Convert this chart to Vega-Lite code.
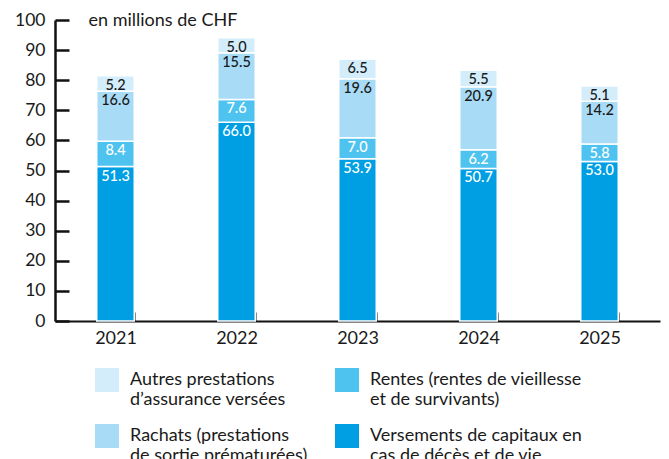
{
  "$schema": "https://vega.github.io/schema/vega-lite/v6.json",
  "width": 605,
  "height": 301,
  "autosize": "none",
  "padding": {"left": 55, "top": 20, "right": 9, "bottom": 138},
  "background": "white",
  "config": {
    "font": "Lato",
    "view": {"stroke": null},
    "axis": {"labelFont": "Lato", "labelColor": "#1a1a1a", "grid": false, "domainColor": "#111", "tickColor": "#111", "labelOverlap": false},
    "legend": {"labelFont": "Lato"}
  },
  "data": {
    "values": [
      {"year": "2021", "cat": "Versements de capitaux en cas de décès et de vie", "k": 1, "value": 51.3},
      {"year": "2021", "cat": "Rentes (rentes de vieillesse et de survivants)", "k": 2, "value": 8.4},
      {"year": "2021", "cat": "Rachats (prestations de sortie prématurées)", "k": 3, "value": 16.6},
      {"year": "2021", "cat": "Autres prestations d’assurance versées", "k": 4, "value": 5.2},
      {"year": "2022", "cat": "Versements de capitaux en cas de décès et de vie", "k": 1, "value": 66.0},
      {"year": "2022", "cat": "Rentes (rentes de vieillesse et de survivants)", "k": 2, "value": 7.6},
      {"year": "2022", "cat": "Rachats (prestations de sortie prématurées)", "k": 3, "value": 15.5},
      {"year": "2022", "cat": "Autres prestations d’assurance versées", "k": 4, "value": 5.0},
      {"year": "2023", "cat": "Versements de capitaux en cas de décès et de vie", "k": 1, "value": 53.9},
      {"year": "2023", "cat": "Rentes (rentes de vieillesse et de survivants)", "k": 2, "value": 7.0},
      {"year": "2023", "cat": "Rachats (prestations de sortie prématurées)", "k": 3, "value": 19.6},
      {"year": "2023", "cat": "Autres prestations d’assurance versées", "k": 4, "value": 6.5},
      {"year": "2024", "cat": "Versements de capitaux en cas de décès et de vie", "k": 1, "value": 50.7},
      {"year": "2024", "cat": "Rentes (rentes de vieillesse et de survivants)", "k": 2, "value": 6.2},
      {"year": "2024", "cat": "Rachats (prestations de sortie prématurées)", "k": 3, "value": 20.9},
      {"year": "2024", "cat": "Autres prestations d’assurance versées", "k": 4, "value": 5.5},
      {"year": "2025", "cat": "Versements de capitaux en cas de décès et de vie", "k": 1, "value": 53.0},
      {"year": "2025", "cat": "Rentes (rentes de vieillesse et de survivants)", "k": 2, "value": 5.8},
      {"year": "2025", "cat": "Rachats (prestations de sortie prématurées)", "k": 3, "value": 14.2},
      {"year": "2025", "cat": "Autres prestations d’assurance versées", "k": 4, "value": 5.1}
    ]
  },
  "transform": [
    {"stack": "value", "groupby": ["year"], "sort": [{"field": "k", "order": "ascending"}], "as": ["v0", "v1"]}
  ],
  "encoding": {
    "x": {
      "field": "year", "type": "nominal",
      "scale": {"paddingInner": 0.69, "paddingOuter": 0.345},
      "axis": {"title": null, "labelAngle": 0, "labelFontSize": 18, "labelPadding": 17, "tickBand": "extent", "tickSize": -9, "tickWidth": 2, "domainWidth": 2}
    },
    "y": {
      "field": "v1", "type": "quantitative",
      "scale": {"domain": [0, 100], "nice": false},
      "axis": {
        "values": [0, 10, 20, 30, 40, 50, 60, 70, 80, 90, 100], "tickCount": 20, "labelOverlap": false,
        "title": "en millions de CHF", "titleAngle": 0, "titleX": 33, "titleY": 0,
        "titleAlign": "left", "titleBaseline": "middle", "titleFontSize": 18, "titleFontWeight": "normal", "titleColor": "#1a1a1a", "titleFont": "Lato",
        "labelFontSize": 17.5, "labelPadding": 24, "tickSize": -14, "tickWidth": 2.5, "domainWidth": 2.5
      }
    }
  },
  "layer": [
    {
      "mark": {"type": "bar", "stroke": "white", "strokeWidth": 1.5},
      "encoding": {
        "y2": {"field": "v0"},
        "color": {
          "field": "cat", "type": "nominal",
          "scale": {
            "domain": ["Autres prestations d’assurance versées", "Rachats (prestations de sortie prématurées)", "Rentes (rentes de vieillesse et de survivants)", "Versements de capitaux en cas de décès et de vie"],
            "range": ["#d3edfb", "#a8dcf6", "#4fc3f0", "#009fe3"]
          },
          "legend": {
            "title": null, "orient": "none", "legendX": 40, "legendY": 348, "columns": 2,
            "symbolType": "square", "symbolSize": 576, "symbolStrokeWidth": 0, "symbolOpacity": 1,
            "labelFontSize": 18, "labelColor": "#1a1a1a", "labelOffset": 11, "labelLimit": 300,
            "columnPadding": 27, "rowPadding": 15, "labelBaseline": "middle",
            "labelExpr": "datum.label == 'Autres prestations d’assurance versées' ? ['Autres prestations', 'd’assurance versées'] : datum.label == 'Rentes (rentes de vieillesse et de survivants)' ? ['Rentes (rentes de vieillesse', 'et de survivants)'] : datum.label == 'Rachats (prestations de sortie prématurées)' ? ['Rachats (prestations', 'de sortie prématurées)'] : ['Versements de capitaux en', 'cas de décès et de vie']",
            "encoding": {"labels": {"update": {"dy": {"value": 9}, "lineHeight": {"value": 16}}}}
          }
        }
      }
    },
    {
      "mark": {"type": "text", "baseline": "middle", "dy": 10, "fontSize": 14.5, "font": "Lato", "fontWeight": 500},
      "encoding": {
        "text": {"field": "value", "type": "quantitative", "format": ".1f"},
        "color": {"condition": {"test": "datum.k <= 2", "value": "white"}, "value": "#1a1a1a"}
      }
    }
  ]
}
